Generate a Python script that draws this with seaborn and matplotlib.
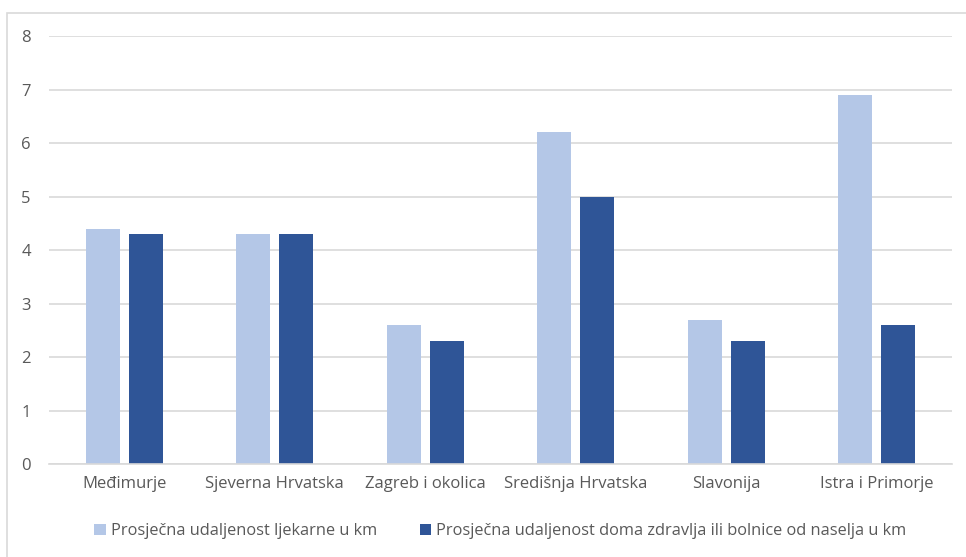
import pandas as pd
import seaborn as sns
import matplotlib.pyplot as plt
from matplotlib.patches import Rectangle

regions = ["Međimurje", "Sjeverna Hrvatska", "Zagreb i okolica",
           "Središnja Hrvatska", "Slavonija", "Istra i Primorje"]
ljekarna = [4.4, 4.3, 2.6, 6.2, 2.7, 6.9]
dom_zdravlja = [4.3, 4.3, 2.3, 5.0, 2.3, 2.6]
series = ["Prosječna udaljenost ljekarne u km",
          "Prosječna udaljenost doma zdravlja ili bolnice od naselja u km"]

df = pd.DataFrame({
    "Regija": regions * 2,
    "km": ljekarna + dom_zdravlja,
    "Serija": [series[0]] * len(regions) + [series[1]] * len(regions),
})

sns.set_style("white")
plt.rcParams['font.family'] = ['Open Sans', 'DejaVu Sans']
txt = "#595959"

fig = plt.figure(figsize=(9.66, 5.57), dpi=100)
ax = fig.add_axes([0.0507, 0.167, 0.9348, 0.768])

sns.barplot(data=df, x="Regija", y="km", hue="Serija", ax=ax,
            palette=["#B4C7E7", "#2F5597"], width=0.57, gap=0.21,
            saturation=1, edgecolor="none")

ax.set_ylim(0, 8)
ax.set_yticks(range(0, 9))
ax.set_xlim(-0.5, 5.5)
ax.yaxis.grid(True, color="#D9D9D9", linewidth=1.2)
ax.set_axisbelow(True)
for s in ["top", "right", "left"]:
    ax.spines[s].set_visible(False)
ax.spines["bottom"].set_color("#D9D9D9")
ax.spines["bottom"].set_linewidth(1.2)
ax.tick_params(axis="both", length=0, colors=txt, labelsize=12)
ax.tick_params(axis="x", pad=9)
ax.tick_params(axis="y", pad=13)
ax.set_xlabel("")
ax.set_ylabel("")

handles, labels = ax.get_legend_handles_labels()
ax.legend_.remove()
fig.legend(handles, labels, loc="center", bbox_to_anchor=(0.518, 0.046),
           ncol=2, frameon=False, fontsize=11.8, labelcolor=txt,
           handlelength=0.7, handleheight=0.7, handletextpad=0.3,
           columnspacing=2.6)

fig.patches.append(Rectangle((0.007, -0.01), 1.0, 0.987, transform=fig.transFigure,
                             fill=False, edgecolor="#D9D9D9", linewidth=1.2))

fig.savefig("out.png", dpi=100)
